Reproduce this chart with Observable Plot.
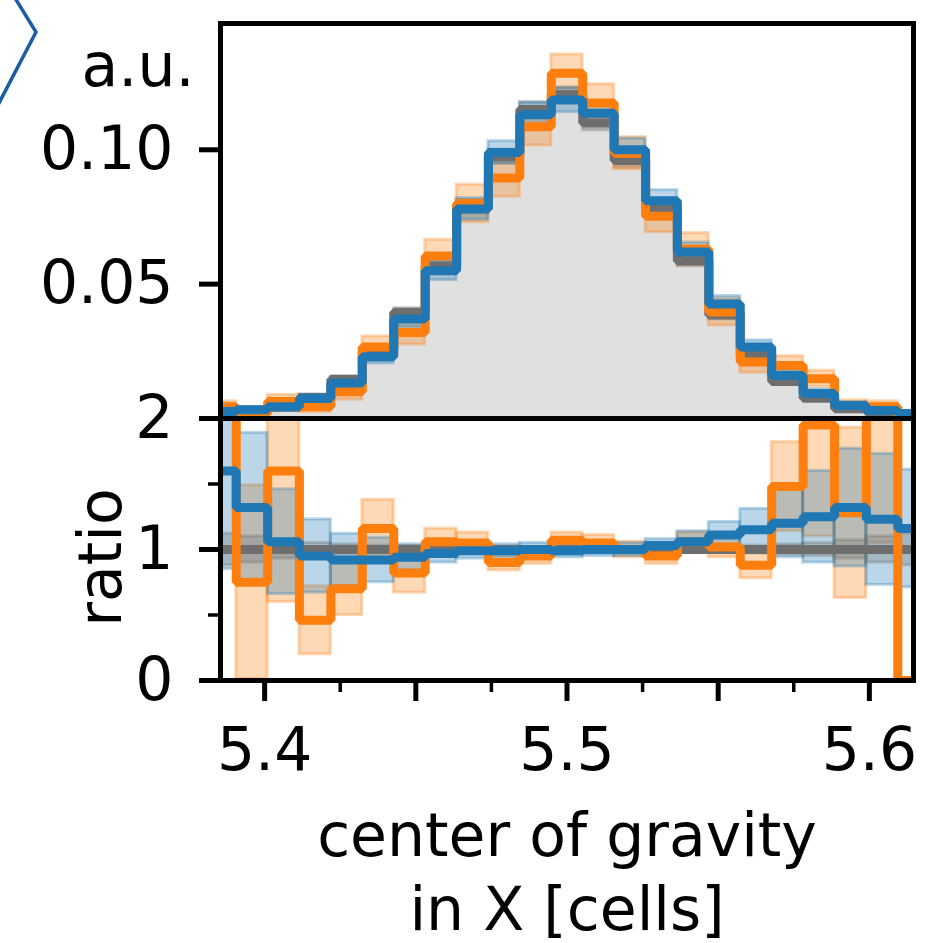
<!DOCTYPE html>
<html>
<head>
<meta charset="utf-8">
<script src="https://cdn.jsdelivr.net/npm/d3@7"></script>
<script src="https://cdn.jsdelivr.net/npm/@observablehq/plot@0.6"></script>
<style>
  body { margin: 0; background: #fff; }
  #chart { position: relative; width: 927px; height: 943px; font-family: "DejaVu Sans", sans-serif; }
  #chart > svg, #chart > div { position: absolute; left: 0; }
</style>
</head>
<body>
<div id="chart"></div>
<script>
// ---- data ----
const binEdges = [5.3802, 5.3906, 5.4010, 5.4115, 5.4219, 5.4323, 5.4427, 5.4531, 5.4635, 5.4740,
                  5.4844, 5.4948, 5.5052, 5.5156, 5.5260, 5.5365, 5.5469, 5.5573, 5.5677, 5.5781,
                  5.5885, 5.5990, 5.6094, 5.6198];

// top panel (a.u.)
const refValues    = [0.0016, 0.0025, 0.0042, 0.0078, 0.0146, 0.0250, 0.0395, 0.0567, 0.0788, 0.0975, 0.1150, 0.1205,
                      0.1100, 0.0960, 0.0780, 0.0586, 0.0385, 0.0240, 0.0138, 0.0075, 0.0036, 0.0024, 0.0016];
const refErr       = [0.0004, 0.0005, 0.0006, 0.0008, 0.0010, 0.0013, 0.0016, 0.0020, 0.0024, 0.0026, 0.0028, 0.0028,
                      0.0028, 0.0026, 0.0024, 0.0020, 0.0016, 0.0013, 0.0010, 0.0008, 0.0006, 0.0005, 0.0004];
const blueValues   = [0.0026, 0.0033, 0.0044, 0.0074, 0.0132, 0.0230, 0.0370, 0.0550, 0.0780, 0.0990, 0.1130, 0.1185,
                      0.1136, 0.1000, 0.0810, 0.0620, 0.0426, 0.0266, 0.0160, 0.0093, 0.0048, 0.0030, 0.0019];
const blueErr      = [0.0008, 0.0010, 0.0013, 0.0016, 0.0020, 0.0025, 0.0030, 0.0035, 0.0040, 0.0042, 0.0045, 0.0045,
                      0.0045, 0.0042, 0.0040, 0.0035, 0.0030, 0.0025, 0.0020, 0.0016, 0.0013, 0.0010, 0.0008];
const orangeValues = [0.0044, 0.0019, 0.0063, 0.0044, 0.0100, 0.0266, 0.0320, 0.0605, 0.0800, 0.0895, 0.1086, 0.1285,
                      0.1174, 0.0987, 0.0753, 0.0630, 0.0396, 0.0210, 0.0197, 0.0148, 0.0048, 0.0044, 0.0000];
const orangeErr    = [0.0020, 0.0015, 0.0025, 0.0020, 0.0030, 0.0040, 0.0045, 0.0060, 0.0070, 0.0070, 0.0070, 0.0070,
                      0.0070, 0.0060, 0.0060, 0.0060, 0.0050, 0.0040, 0.0035, 0.0030, 0.0020, 0.0020, 0.0010];

// ratio panel
const refRatioErr    = [0.12, 0.10, 0.07, 0.05, 0.04, 0.03, 0.025, 0.02, 0.02, 0.02, 0.02, 0.02,
                        0.02, 0.02, 0.02, 0.02, 0.025, 0.03, 0.04, 0.05, 0.07, 0.10, 0.12];
const blueRatio      = [1.60, 1.32, 1.06, 0.95, 0.92, 0.92, 0.94, 0.97, 0.99, 0.99, 1.00, 0.99,
                        1.00, 1.00, 1.03, 1.06, 1.11, 1.15, 1.20, 1.25, 1.32, 1.23, 1.16];
const blueRatioErr   = [0.75, 0.57, 0.40, 0.28, 0.20, 0.17, 0.10, 0.07, 0.06, 0.05, 0.05, 0.05,
                        0.05, 0.05, 0.05, 0.08, 0.10, 0.16, 0.26, 0.35, 0.45, 0.50, 0.45];
const orangeRatio    = [2.60, 0.75, 1.60, 0.46, 0.70, 1.16, 0.82, 1.06, 1.05, 0.90, 0.95, 1.07,
                        1.05, 1.00, 0.95, 1.06, 1.02, 0.88, 1.48, 1.95, 1.28, 2.60, 0.00];
const orangeRatioErr = [0.50, 0.74, 1.00, 0.26, 0.20, 0.22, 0.15, 0.10, 0.08, 0.06, 0.06, 0.06,
                        0.06, 0.06, 0.06, 0.07, 0.08, 0.10, 0.34, 0.85, 0.65, 1.55, 0.00];

const xMajorTicks = [5.40, 5.45, 5.50, 5.55, 5.60];
const xTickLabels = ["5.4", "", "5.5", "", "5.6"];
const xMinorTicks = [5.425, 5.475, 5.525, 5.575];
const topYTicks = [0.05, 0.10];
const topYLabels = ["0.05", "0.10"];
const ratioMajorTicks = [0, 1, 2];
const ratioMinorTicks = [0.5, 1.5];

const xDomain = [5.3854, 5.6146];

// ---- colours ----
const GRAY = "#6e6e6e", BLUE = "#1f77b4", ORANGE = "#ff7f0e";

// ---- helpers building tables from the arrays ----
function steps(vals) {
  const pts = vals.map((v, i) => ({x: binEdges[i], y: v}));
  pts.push({x: binEdges[vals.length], y: vals[vals.length - 1]});
  return pts;
}
function boxes(vals, errs) {
  return vals.map((v, i) => ({x1: binEdges[i], x2: binEdges[i + 1], lo: v - errs[i], hi: v + errs[i]}))
             .filter(d => d.hi > d.lo);
}
function boxMark(data, color) {
  return Plot.rect(data, {x1: "x1", x2: "x2", y1: "lo", y2: "hi", fill: color, fillOpacity: 0.3,
                          stroke: color, strokeOpacity: 0.3, strokeWidth: 3, clip: true});
}
function stepLine(vals, color) {
  return Plot.line(steps(vals), {x: "x", y: "y", curve: "step-after", stroke: color, strokeWidth: 9,
                                 strokeLinejoin: "miter", clip: true});
}

const FONT = {fontFamily: "DejaVu Sans", fontSize: "60px", color: "black", background: "transparent", overflow: "visible"};
const root = document.getElementById("chart");

// ---- top panel ----
const topPlot = Plot.plot({
  width: 927, height: 420,
  marginLeft: 220, marginRight: 14, marginTop: 23, marginBottom: 2,
  style: FONT,
  x: {domain: xDomain, axis: null},
  y: {domain: [0, 0.147], axis: null},
  marks: [
    Plot.areaY(steps(refValues), {x: "x", y: "y", curve: "step-after", fill: "#e0e0e0", clip: true}),
    boxMark(boxes(refValues, refErr), GRAY),
    boxMark(boxes(orangeValues, orangeErr), ORANGE),
    boxMark(boxes(blueValues, blueErr), BLUE),
    stepLine(refValues, GRAY),
    stepLine(orangeValues, ORANGE),
    stepLine(blueValues, BLUE),
    Plot.frame({stroke: "black", strokeWidth: 5}),
    Plot.axisY({ticks: topYTicks, tickSize: 21, tickPadding: 26, strokeWidth: 5, label: null,
                tickFormat: d => topYLabels[topYTicks.indexOf(d)]}),
    Plot.text(["a.u."], {frameAnchor: "top-left", dx: -26, dy: 20, textAnchor: "end", fill: "black"})
  ]
});
topPlot.style.top = "0px";
root.appendChild(topPlot);

// ---- ratio panel ----
const ratioPlot = Plot.plot({
  width: 927, height: 525,
  marginLeft: 220, marginRight: 14, marginTop: 0, marginBottom: 263,
  style: FONT,
  x: {domain: xDomain, axis: null},
  y: {domain: [0, 2], axis: null},
  marks: [
    boxMark(boxes(orangeRatio, orangeRatioErr), ORANGE),
    boxMark(boxes(blueRatio, blueRatioErr), BLUE),
    boxMark(boxes(refValues.map(() => 1), refRatioErr), GRAY),
    Plot.ruleY([1], {stroke: GRAY, strokeWidth: 9}),
    stepLine(orangeRatio, ORANGE),
    stepLine(blueRatio, BLUE),
    Plot.frame({stroke: "black", strokeWidth: 5}),
    Plot.axisY({ticks: ratioMajorTicks, tickSize: 21, tickPadding: 26, strokeWidth: 5, label: null,
                tickFormat: d => String(d)}),
    Plot.axisY({ticks: ratioMinorTicks, tickSize: 12, strokeWidth: 3.5, label: null, tickFormat: () => ""}),
    Plot.axisX({ticks: xMajorTicks, tickSize: 21, tickPadding: 26, strokeWidth: 5, label: null,
                tickFormat: d => xTickLabels[xMajorTicks.indexOf(d)]}),
    Plot.axisX({ticks: xMinorTicks, tickSize: 12, strokeWidth: 3.5, label: null, tickFormat: () => ""}),
    Plot.text(["ratio"], {frameAnchor: "left", dx: -119, dy: 8, rotate: -90, textAnchor: "middle", lineAnchor: "middle", fill: "black"}),
    Plot.text(["center of gravity"], {frameAnchor: "bottom", dy: 175, fill: "black"}),
    Plot.text(["in X [cells]"], {frameAnchor: "bottom", dy: 249, fill: "black"})
  ]
});
ratioPlot.style.top = "418px";
root.appendChild(ratioPlot);

// ---- decorative chevron (part of a neighbouring figure element) ----
const ns = "http://www.w3.org/2000/svg";
const deco = document.createElementNS(ns, "svg");
deco.setAttribute("width", "60"); deco.setAttribute("height", "110");
deco.style.top = "0px";
const pl = document.createElementNS(ns, "polyline");
pl.setAttribute("points", "15,-2 36,32 -2,105");
pl.setAttribute("fill", "none"); pl.setAttribute("stroke", "#1a5fa3"); pl.setAttribute("stroke-width", "3.5");
deco.appendChild(pl);
root.appendChild(deco);
</script>
</body>
</html>
